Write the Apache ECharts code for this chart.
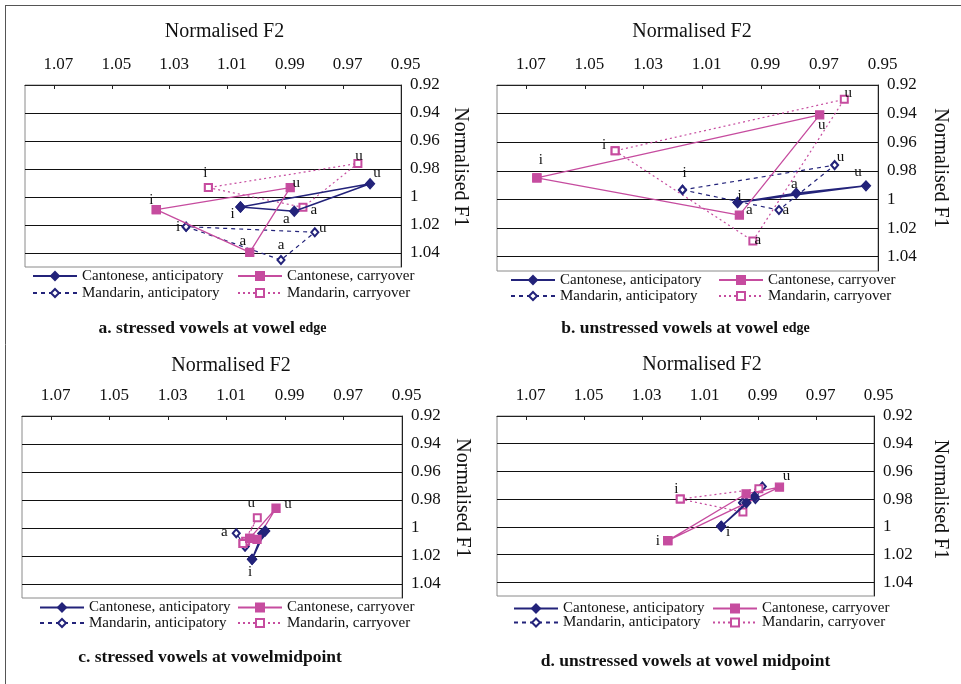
<!DOCTYPE html>
<html><head><meta charset="utf-8">
<script src="https://cdn.jsdelivr.net/npm/echarts@6/dist/echarts.min.js"></script>
<style>html,body{margin:0;padding:0;background:#fff}#c{width:961px;height:684px}</style>
</head><body><div id="c"></div>
<script>
// ---------- data ----------
const vowels = ['i', 'a', 'u'];
const seriesNames = ['Cantonese, anticipatory', 'Cantonese, carryover', 'Mandarin, anticipatory', 'Mandarin, carryover'];
const f2TickLabels = [0.95, 0.97, 0.99, 1.01, 1.03, 1.05, 1.07];
const f1TickLabels = [0.92, 0.94, 0.96, 0.98, 1, 1.02, 1.04];
const xTitle = 'Normalised F2';
const yTitle = 'Normalised F1';

// panel a: stressed vowels at vowel edge (values in order i, a, u)
const aCantAntF2 = [1.0055, 0.9869, 0.9607];
const aCantAntF1 = [1.0071, 1.0102, 0.9905];
const aCantCarF2 = [1.0346, 1.0023, 0.9883];
const aCantCarF1 = [1.0090, 1.0395, 0.9933];
const aMandAntF2 = [1.0243, 0.9915, 0.9798];
const aMandAntF1 = [1.0212, 1.0450, 1.0252];
const aMandCarF2 = [1.0166, 0.9839, 0.9649];
const aMandCarF1 = [0.9933, 1.0074, 0.9760];

// panel b: unstressed vowels at vowel edge
const bCantAntF2 = [0.9979, 0.9779, 0.9541];
const bCantAntF1 = [1.0021, 0.9956, 0.9905];
const bCantCarF2 = [1.0664, 0.9973, 0.9699];
const bCantCarF1 = [0.9849, 1.0109, 0.9409];
const bMandAntF2 = [1.0167, 0.9838, 0.9648];
const bMandAntF1 = [0.9933, 1.0074, 0.9760];
const bMandCarF2 = [1.0397, 0.9927, 0.9615];
const bMandCarF1 = [0.9660, 1.0290, 0.9300];

// panel c: stressed vowels at vowel midpoint
const cCantAntF2 = [1.0013, 0.9978, 0.9968];
const cCantAntF1 = [1.0224, 1.0040, 1.0022];
const cCantCarF2 = [1.0021, 0.9996, 0.9931];
const cCantCarF1 = [1.0074, 1.0081, 0.9859];
const cMandAntF2 = [1.0037, 1.0067, 1.0042];
const cMandAntF1 = [1.0132, 1.0038, 1.0115];
const cMandCarF2 = [1.0044, 1.0035, 0.9995];
const cMandCarF1 = [1.0110, 1.0095, 0.9926];

// panel d: unstressed vowels at vowel midpoint
const dCantAntF2 = [1.0027, 0.9940, 0.9912];
const dCantAntF1 = [0.9997, 0.9827, 0.9783];
const dCantCarF2 = [1.0211, 0.9941, 0.9826];
const dCantCarF1 = [1.0100, 0.9762, 0.9714];
const dMandAntF2 = [0.9953, 0.9909, 0.9885];
const dMandAntF1 = [0.9827, 0.9800, 0.9709];
const dMandCarF2 = [1.0168, 0.9952, 0.9897];
const dMandCarF1 = [0.9800, 0.9894, 0.9726];

const captionA = ['a. stressed vowels at vowel ', 'edge'];
const captionB = ['b. unstressed vowels at vowel ', 'edge'];
const captionC = ['c. stressed vowels at vowelmidpoint', ''];
const captionD = ['d. unstressed vowels at vowel midpoint', ''];

// ---------- layout / style ----------
const FONT = '"Liberation Serif", "Times New Roman", serif';
const NAVY = '#23237a';
const MAG = '#c64c9f';

const panels = [
  { f2: [aCantAntF2, aCantCarF2, aMandAntF2, aMandCarF2], f1: [aCantAntF1, aCantCarF1, aMandAntF1, aMandCarF1], caption: captionA },
  { f2: [bCantAntF2, bCantCarF2, bMandAntF2, bMandCarF2], f1: [bCantAntF1, bCantCarF1, bMandAntF1, bMandCarF1], caption: captionB },
  { f2: [cCantAntF2, cCantCarF2, cMandAntF2, cMandCarF2], f1: [cCantAntF1, cCantCarF1, cMandAntF1, cMandCarF1], caption: captionC },
  { f2: [dCantAntF2, dCantCarF2, dMandAntF2, dMandCarF2], f1: [dCantAntF1, dCantCarF1, dMandAntF1, dMandCarF1], caption: captionD }
];

const layout = [
  { grid: { left: 25, top: 85, width: 376, height: 182 }, xGap: 43, xShift: 23, yGap: 49, yShift: 18,
    legend: { c1: 32, c2: 237, top: 268.5, gap: 2 }, cap: { x: 212.5, y: 328 } },
  { grid: { left: 497, top: 85, width: 381, height: 186 }, xGap: 43, xShift: 9, yGap: 52, yShift: 20,
    legend: { c1: 510, c2: 718, top: 272.5, gap: 1 }, cap: { x: 685.5, y: 328 } },
  { grid: { left: 22, top: 416, width: 380, height: 182 }, xGap: 40, xShift: 38, yGap: 50, yShift: 18,
    legend: { c1: 39, c2: 237, top: 600, gap: 0.5 }, cap: { x: 210, y: 657 } },
  { grid: { left: 497, top: 416, width: 377, height: 180 }, xGap: 41, xShift: 33, yGap: 56, yShift: 13,
    legend: { c1: 513, c2: 712, top: 601, gap: -1 }, cap: { x: 685.5, y: 661 } }
];

// vowel label offsets [dx, dy] from the marker (style only)
const labelOffsets = [
  [ { i: [-8, 9], a: [-8, 9], u: [7, -9] }, { i: [-5, -8], a: [-7, -10], u: [6, -3] },
    { i: [-8, 2], a: [0, -13], u: [8, -3] }, { i: [-3, -13], a: [11, 4], u: [1, -6] } ],
  [ { i: [2, -5], a: [-2, -8], u: [-8, -12] }, { i: [4, -16], a: [10, -3], u: [2, 12] },
    { i: [2, -15], a: [7, 2], u: [6, -7] }, { i: [-11, -4], a: [5, 1], u: [4, -5] } ],
  [ { i: [-2, 14] }, { u: [12, -3] }, { a: [-12, 0] }, { u: [-6, -13] } ],
  [ { i: [7, 7] }, { i: [-10, 2], u: [7, -10] }, {}, { i: [-4, -9] } ]
];

const seriesStyles = [
  { color: NAVY, symbol: 'diamond', size: [9, 10], type: 'solid', width: 1.5 },
  { color: MAG, symbol: 'rect', size: 8, type: 'solid', width: 1.3 },
  { color: NAVY, symbol: 'emptyDiamond', size: [7, 8], type: [4, 4], width: 1.2 },
  { color: MAG, symbol: 'emptyRect', size: 7, type: [2, 3], width: 1.2 }
];

const option = { animation: false, backgroundColor: '#fff', grid: [], xAxis: [], yAxis: [], series: [], legend: [], graphic: [] };

panels.forEach((p, pi) => {
  const L = layout[pi];
  option.grid.push(Object.assign({ show: true, borderColor: '#8a8a8a', borderWidth: 1, backgroundColor: '#fff' }, L.grid));
  option.xAxis.push({
    type: 'value', gridIndex: pi, position: 'top', inverse: true, min: 0.95, max: 1.08,
    name: xTitle, nameLocation: 'middle', nameGap: L.xGap,
    nameTextStyle: { fontFamily: FONT, fontSize: 20, color: '#111', padding: [0, 0, 0, L.xShift] },
    axisLine: { show: true, lineStyle: { color: '#222', width: 1 } },
    axisTick: { show: true, inside: true, length: 4, customValues: f2TickLabels, lineStyle: { color: '#222' } },
    axisLabel: { customValues: f2TickLabels, margin: 12, fontFamily: FONT, fontSize: 17, color: '#111',
      padding: [0, 0, 0, 9], formatter: v => Number(v).toFixed(2) },
    splitLine: { show: false }
  });
  option.yAxis.push({
    type: 'value', gridIndex: pi, position: 'right', inverse: true, min: 0.92, max: 1.05, interval: 0.02,
    name: yTitle, nameLocation: 'middle', nameRotate: -90, nameGap: L.yGap,
    nameTextStyle: { fontFamily: FONT, fontSize: 20, color: '#111', padding: [0, L.yShift, 0, 0] },
    axisLine: { show: true, lineStyle: { color: '#222', width: 1 } },
    axisTick: { show: false },
    axisLabel: { customValues: f1TickLabels, margin: 9, fontFamily: FONT, fontSize: 17, color: '#111',
      padding: [0, 0, 5, 0], formatter: v => String(Math.round(v * 100) / 100) },
    splitLine: { show: true, showMaxLine: false, lineStyle: { color: '#111', width: 1 } }
  });

  seriesNames.forEach((nm, si) => {
    const st = seriesStyles[si];
    const offs = labelOffsets[pi][si] || {};
    const order = [0, 1, 2, 0];
    const data = order.map((k, j) => {
      const v = vowels[k];
      const off = (j < 3) ? offs[v] : null;
      return {
        value: [p.f2[si][k], p.f1[si][k]],
        name: v,
        label: off ? { show: true, offset: [off[0], off[1] - 1.5] } : { show: false }
      };
    });
    option.series.push({
      type: 'line', name: nm, xAxisIndex: pi, yAxisIndex: pi, data,
      symbol: st.symbol, symbolSize: st.size, showAllSymbol: true,
      lineStyle: { color: st.color, width: st.width, type: st.type },
      itemStyle: { color: st.color, borderColor: st.color, borderWidth: 1.3 },
      label: { show: false, position: 'inside', formatter: '{b}', fontFamily: FONT, fontSize: 15, color: '#111' },
      emphasis: { disabled: true },
      z: si < 2 ? 3 : 2
    });
  });

  const lg = L.legend;
  const common = { orient: 'vertical', top: lg.top, itemWidth: 44, itemHeight: 10, itemGap: lg.gap, selectedMode: false,
    textStyle: { fontFamily: FONT, fontSize: 15, color: '#111' }, padding: 0 };
  option.legend.push(Object.assign({ left: lg.c1, data: [seriesNames[0], seriesNames[2]] }, common));
  option.legend.push(Object.assign({ left: lg.c2, data: [seriesNames[1], seriesNames[3]] }, common));

  option.graphic.push({
    type: 'text', x: L.cap.x, y: L.cap.y,
    style: {
      text: '{b|' + p.caption[0] + '}' + (p.caption[1] ? '{s|' + p.caption[1] + '}' : ''),
      align: 'center', verticalAlign: 'middle', textAlign: 'center', textVerticalAlign: 'middle',
      fill: '#111',
      rich: {
        b: { fontFamily: FONT, fontSize: 17.5, fontWeight: 'bold', fill: '#111', color: '#111' },
        s: { fontFamily: FONT, fontSize: 14, fontWeight: 'bold', fill: '#111', color: '#111' }
      }
    }
  });
});

option.graphic.push({ type: 'line', shape: { x1: 5, y1: 5.5, x2: 961, y2: 5.5 }, style: { stroke: '#555', lineWidth: 1 } });
option.graphic.push({ type: 'line', shape: { x1: 5.5, y1: 5, x2: 5.5, y2: 684 }, style: { stroke: '#555', lineWidth: 1 } });

const chart = echarts.init(document.getElementById('c'), null, { renderer: 'canvas' });
chart.setOption(option);
</script>
</body></html>
